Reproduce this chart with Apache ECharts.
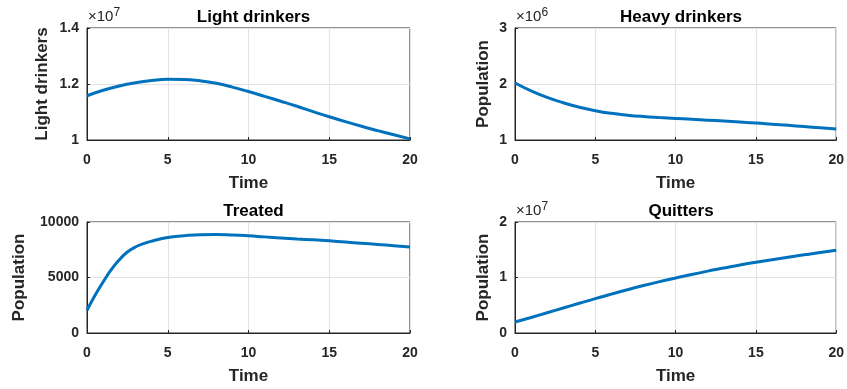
<!DOCTYPE html>
<html>
<head>
<meta charset="utf-8">
<script src="https://cdn.jsdelivr.net/npm/echarts@6/dist/echarts.min.js"></script>
<style>
  html, body { margin: 0; padding: 0; background: #fff; }
  #chart { width: 847px; height: 389px; }
</style>
</head>
<body>
<div id="chart"></div>
<script>
// time points
const time = [0, 1, 2, 3, 4, 5, 6, 7, 8, 9, 10, 11, 12, 13, 14, 15, 16, 17, 18, 19, 20];
const timeTreated = [0, 0.5, 1, 1.5, 2, 2.5, 3, 3.5, 4, 5, 6, 7, 8, 9, 10, 11, 12, 13, 14, 15, 16, 17, 18, 19, 20];

// values
const lightDrinkers = [1.158e7, 1.1775e7, 1.193e7, 1.2045e7, 1.2125e7, 1.217e7, 1.2165e7, 1.2115e7, 1.2025e7, 1.189e7,
  1.173e7, 1.156e7, 1.1385e7, 1.1205e7, 1.1015e7, 1.083e7, 1.0655e7, 1.049e7, 1.0335e7, 1.0185e7, 1.004e7];
const heavyDrinkers = [2.018e6, 1.878e6, 1.761e6, 1.665e6, 1.586e6, 1.523e6, 1.476e6, 1.444e6, 1.42e6, 1.402e6,
  1.386e6, 1.37e6, 1.354e6, 1.338e6, 1.321e6, 1.304e6, 1.283e6, 1.262e6, 1.24e6, 1.218e6, 1.196e6];
const treated = [2050, 3400, 4600, 5700, 6600, 7300, 7750, 8050, 8270, 8610, 8760, 8860, 8880, 8835, 8758,
  8660, 8565, 8475, 8390, 8300, 8195, 8085, 7975, 7865, 7758];
const quitters = [0.198e7, 0.28e7, 0.365e7, 0.45e7, 0.535e7, 0.62e7, 0.70e7, 0.78e7, 0.855e7, 0.925e7,
  0.99e7, 1.055e7, 1.115e7, 1.17e7, 1.225e7, 1.275e7, 1.32e7, 1.365e7, 1.41e7, 1.45e7, 1.49e7];

const titles = ['Light drinkers', 'Heavy drinkers', 'Treated', 'Quitters'];
const yNames = ['Light drinkers', 'Population', 'Population', 'Population'];
const yMin = [1e7, 1e6, 0, 0];
const yMax = [1.4e7, 3e6, 10000, 2e7];
const yStep = [0.2e7, 1e6, 5000, 1e7];
const yScale = [1e7, 1e6, 1, 1e7];
const yExp = ['7', '6', null, '7'];

const ink = '#262626';
const font = 'Arial, "Liberation Sans", Helvetica, sans-serif';

const grids = [
  { left: 87, top: 28, width: 323, height: 112 },
  { left: 515, top: 28, width: 322, height: 112 },
  { left: 87, top: 222, width: 323, height: 111 },
  { left: 515, top: 222, width: 322, height: 111 }
];
const yGaps = [36, 23, 59, 23];

const seriesData = [
  time.map((t, i) => [t, lightDrinkers[i]]),
  time.map((t, i) => [t, heavyDrinkers[i]]),
  timeTreated.map((t, i) => [t, treated[i]]),
  time.map((t, i) => [t, quitters[i]])
];

const chart = echarts.init(document.getElementById('chart'));

chart.setOption({
  backgroundColor: '#fff',
  animation: false,
  title: grids.map((g, i) => ({
    text: titles[i],
    left: g.left + g.width / 2,
    top: g.top - 24,
    textAlign: 'center',
    textStyle: { fontFamily: font, fontSize: 17, fontWeight: 'bold', color: '#000' }
  })),
  grid: grids.map(g => Object.assign({ show: true, borderColor: ink, borderWidth: 1, backgroundColor: '#fff' }, g)),
  xAxis: grids.map((g, i) => ({
    gridIndex: i,
    type: 'value',
    min: 0, max: 20, interval: 5,
    name: 'Time',
    nameLocation: 'middle',
    nameGap: 35,
    nameTextStyle: { fontFamily: font, fontSize: 17, fontWeight: 'bold', color: ink },
    axisLine: { show: true, lineStyle: { color: ink } },
    axisTick: { show: true, inside: true, length: 3, lineStyle: { color: ink } },
    axisLabel: { fontFamily: font, fontSize: 14, fontWeight: 'bold', color: ink, margin: 13 },
    splitLine: { show: true, lineStyle: { color: '#e3e3e3' } }
  })),
  yAxis: grids.map((g, i) => ({
    gridIndex: i,
    type: 'value',
    min: yMin[i], max: yMax[i], interval: yStep[i],
    name: yNames[i],
    nameLocation: 'middle',
    nameGap: yGaps[i],
    nameTextStyle: { fontFamily: font, fontSize: 17, fontWeight: 'bold', color: ink },
    axisLine: { show: true, lineStyle: { color: ink } },
    axisTick: { show: true, inside: true, length: 3, lineStyle: { color: ink } },
    axisLabel: {
      fontFamily: font, fontSize: 14, fontWeight: 'bold', color: ink, margin: 8,
      formatter: v => String(Math.round(v / yScale[i] * 10) / 10)
    },
    splitLine: { show: true, lineStyle: { color: '#e3e3e3' } }
  })),
  graphic: grids.map((g, i) => yExp[i] ? {
    type: 'text',
    left: g.left + 1,
    top: g.top - 21,
    style: {
      text: '×10{sup|' + yExp[i] + '}',
      font: '15px ' + font,
      fill: ink,
      rich: { sup: { fontSize: 12, fontFamily: font, verticalAlign: 'top', padding: [0, 0, 8, 0], fill: ink } }
    }
  } : { type: 'group' }),
  series: seriesData.map((d, i) => ({
    type: 'line',
    xAxisIndex: i,
    yAxisIndex: i,
    data: d,
    smooth: 0.5,
    showSymbol: false,
    lineStyle: { color: '#0072BD', width: 3 },
    itemStyle: { color: '#0072BD' }
  }))
});
</script>
</body>
</html>
